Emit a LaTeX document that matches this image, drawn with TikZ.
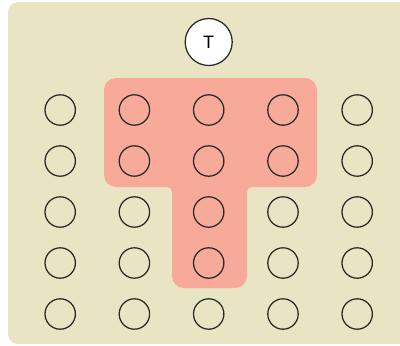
\documentclass[tikz,border=0pt]{standalone}
\usepackage{fontspec}
\setmainfont{Liberation Sans}
\definecolor{bgbeige}{RGB}{233,229,196}
\definecolor{tred}{RGB}{247,170,154}
\definecolor{ink}{RGB}{40,40,40}
\begin{document}
\begin{tikzpicture}[x=1pt,y=1pt,
  cell/.style={circle,draw=ink,line width=1.25pt,minimum size=30.4pt,inner sep=0pt},
  tnode/.style={circle,draw=ink,fill=white,line width=1.25pt,minimum size=47pt,inner sep=0pt,font=\fontsize{18}{18}\selectfont}]
\useasboundingbox (0,0) rectangle (400,-346);
\begin{scope}
\clip (0,0) rectangle (400,-346);
\fill[bgbeige,rounded corners=10pt] (8,-2) rectangle (420,-344);
\end{scope}
\fill[tred] (116,-78) -- (305,-78) arc[start angle=90,end angle=0,radius=12]
  -- (317,-175) arc[start angle=0,end angle=-90,radius=12]
  -- (252,-187) arc[start angle=90,end angle=180,radius=5]
  -- (247,-276) arc[start angle=0,end angle=-90,radius=12]
  -- (184,-288) arc[start angle=-90,end angle=-180,radius=12]
  -- (172,-192) arc[start angle=0,end angle=90,radius=5]
  -- (116,-187) arc[start angle=-90,end angle=-180,radius=12]
  -- (104,-90) arc[start angle=180,end angle=90,radius=12] -- cycle;
\node[tnode] (T) at (208.7,-42) {T};
\foreach \r/\y in {1/110,2/161,3/212,4/263,5/314}{
  \foreach \c/\x in {1/60.2,2/134.4,3/208.7,4/283,5/357.2}{
    \node[cell] (c-\r-\c) at (\x,-\y) {};
  }
}
\end{tikzpicture}
\end{document}
